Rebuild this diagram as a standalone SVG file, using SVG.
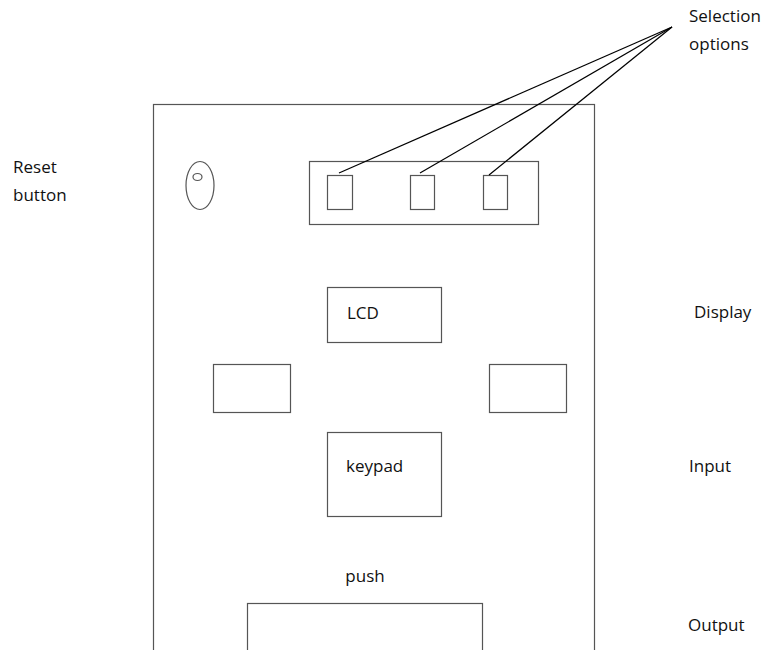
<svg xmlns="http://www.w3.org/2000/svg" width="771" height="650" viewBox="0 0 771 650">
<style>
.box{fill:#fff;stroke:#555;stroke-width:1.2}
.ln{fill:none;stroke:#000;stroke-width:1.2}
text{font-family:"Open Sans","Noto Sans",sans-serif;font-size:17px;fill:#111}
</style>
<rect width="771" height="650" fill="#fff"/>
<g id="device"><rect class="box" x="153.5" y="104.5" width="441" height="560"/></g>
<g id="reset">
<ellipse class="box" cx="200" cy="185.5" rx="14" ry="24"/>
<ellipse class="box" cx="197.5" cy="177" rx="4.5" ry="3.5"/>
</g>
<g id="selection-panel">
<rect class="box" x="309.5" y="161.5" width="229" height="63"/>
<rect class="box" x="327.5" y="175.5" width="25" height="34"/>
<rect class="box" x="410.5" y="175.5" width="24" height="34"/>
<rect class="box" x="483.5" y="175.5" width="24" height="34"/>
</g>
<g id="lcd"><rect class="box" x="327.5" y="287.5" width="114" height="55"/><text x="347" y="319">LCD</text></g>
<g id="left-box"><rect class="box" x="213.5" y="364.5" width="77" height="48"/></g>
<g id="right-box"><rect class="box" x="489.5" y="364.5" width="77" height="48"/></g>
<g id="keypad"><rect class="box" x="327.5" y="432.5" width="114" height="84"/><text x="346" y="472">keypad</text></g>
<g id="push"><text x="365" y="582" text-anchor="middle">push</text><rect class="box" x="247.5" y="603.5" width="235" height="60"/></g>
<g id="labels">
<text x="689" y="22">Selection</text>
<text x="689" y="50">options</text>
<text x="13" y="173">Reset</text>
<text x="13" y="201">button</text>
<text x="694" y="318">Display</text>
<text x="689" y="472">Input</text>
<text x="688" y="631">Output</text>
</g>
<g id="connectors">
<line class="ln" x1="339" y1="173" x2="672" y2="27"/>
<line class="ln" x1="420" y1="173" x2="672" y2="27"/>
<line class="ln" x1="489" y1="175" x2="672" y2="27"/>
</g>
</svg>
